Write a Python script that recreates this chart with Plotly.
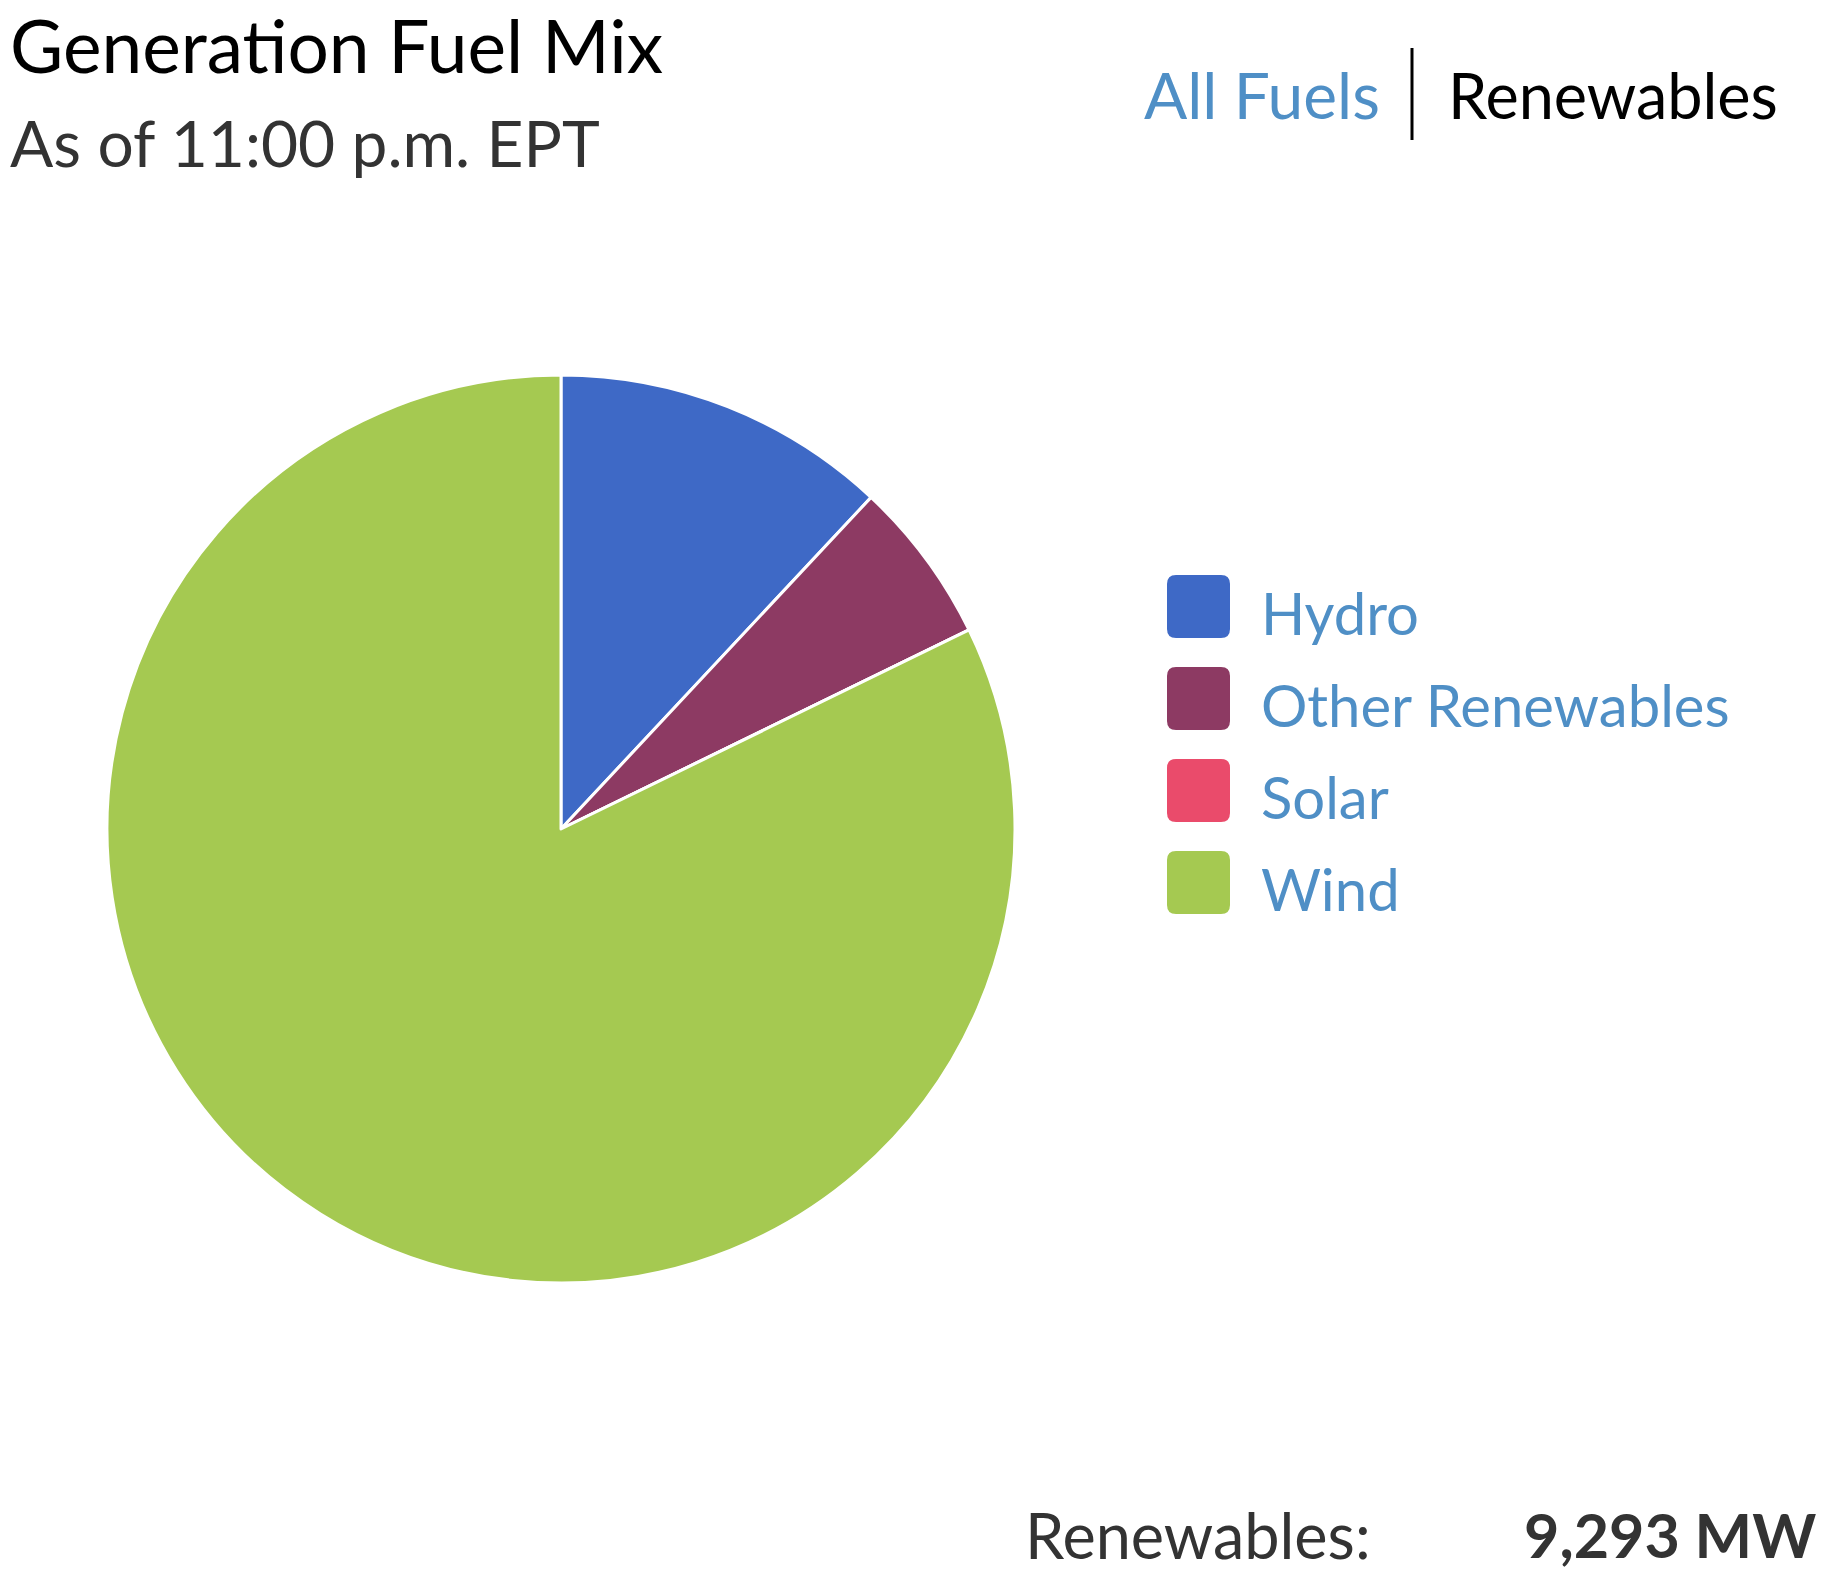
import plotly.graph_objects as go

# Renewable generation at 11:00 p.m. EPT (MW)
fuels = ["Hydro", "Other Renewables", "Solar", "Wind"]
mw = [1112, 540, 0, 7641]
fuel_colors = ["#3E69C6", "#8D3A63", "#EA4B6B", "#A5C951"]

title_text = "Generation Fuel Mix"
subtitle_text = "As of 11:00 p.m. EPT"
toggle_labels = ["All Fuels", "Renewables"]
total_label = "Renewables:"

W, H = 1836, 1589
FONT = "Lato"
LINK = "#4F8FC6"


def px(x):
    return x / W


def py(y):
    return 1 - y / H


fig = go.Figure()

# Pie
fig.add_trace(
    go.Pie(labels=fuels, values=mw, sort=False, direction="clockwise", rotation=0,
           marker=dict(colors=fuel_colors, line=dict(color="white", width=3)),
           textinfo="none", showlegend=False,
           domain=dict(x=[px(107), px(1015)], y=[py(1283), py(375)]))
)

annotations = []
shapes = []

# Header
annotations.append(dict(text=title_text, x=px(8), y=py(45), xanchor="left", yanchor="middle",
                        font=dict(size=73, color="#000000")))
annotations.append(dict(text=subtitle_text, x=px(8), y=py(142.5), xanchor="left", yanchor="middle",
                        font=dict(size=64, color="#333333")))

# All Fuels | Renewables toggle
annotations.append(dict(text=toggle_labels[0], x=px(1142), y=py(94.5), xanchor="left", yanchor="middle",
                        font=dict(size=64, color=LINK)))
annotations.append(dict(text=toggle_labels[1], x=px(1446), y=py(94.5), xanchor="left", yanchor="middle",
                        font=dict(size=63, color="#000000")))
shapes.append(dict(type="line", xref="paper", yref="paper", x0=px(1412), x1=px(1412),
                   y0=py(48), y1=py(140), line=dict(color="#000000", width=3)))

# Custom legend with rounded swatches
sw, r = 63, 9
lx, ly0, pitch = 1167, 575, 92
for i, (name, col) in enumerate(zip(fuels, fuel_colors)):
    x0, y0 = lx, ly0 + i * pitch
    x1, y1 = x0 + sw, y0 + sw
    path = (f"M {px(x0 + r)} {py(y0)} L {px(x1 - r)} {py(y0)} Q {px(x1)} {py(y0)} {px(x1)} {py(y0 + r)} "
            f"L {px(x1)} {py(y1 - r)} Q {px(x1)} {py(y1)} {px(x1 - r)} {py(y1)} "
            f"L {px(x0 + r)} {py(y1)} Q {px(x0)} {py(y1)} {px(x0)} {py(y1 - r)} "
            f"L {px(x0)} {py(y0 + r)} Q {px(x0)} {py(y0)} {px(x0 + r)} {py(y0)} Z")
    shapes.append(dict(type="path", xref="paper", yref="paper", path=path,
                       fillcolor=col, line=dict(width=0)))
    annotations.append(dict(text=name, x=px(1259), y=py(y0 + sw / 2 + 6), xanchor="left", yanchor="middle",
                            font=dict(size=58, color=LINK)))

# Total
annotations.append(dict(text=total_label, x=px(1023), y=py(1534.5), xanchor="left", yanchor="middle",
                        font=dict(size=63, color="#333333")))
annotations.append(dict(text=f"<b>{sum(mw):,} MW</b>", x=px(1818), y=py(1534.5), xanchor="right",
                        yanchor="middle", font=dict(size=61, color="#333333")))

for a in annotations:
    a.update(xref="paper", yref="paper", showarrow=False)

fig.update_layout(
    width=W, height=H,
    margin=dict(l=0, r=0, t=0, b=0),
    paper_bgcolor="white", plot_bgcolor="white",
    font=dict(family=FONT),
    annotations=annotations, shapes=shapes,
)

# drop the default page margin so the figure fills the window exactly
fig.write_html("out.html", config={"displayModeBar": False},
               post_script="document.body.style.margin='0';document.body.style.overflow='hidden';")
